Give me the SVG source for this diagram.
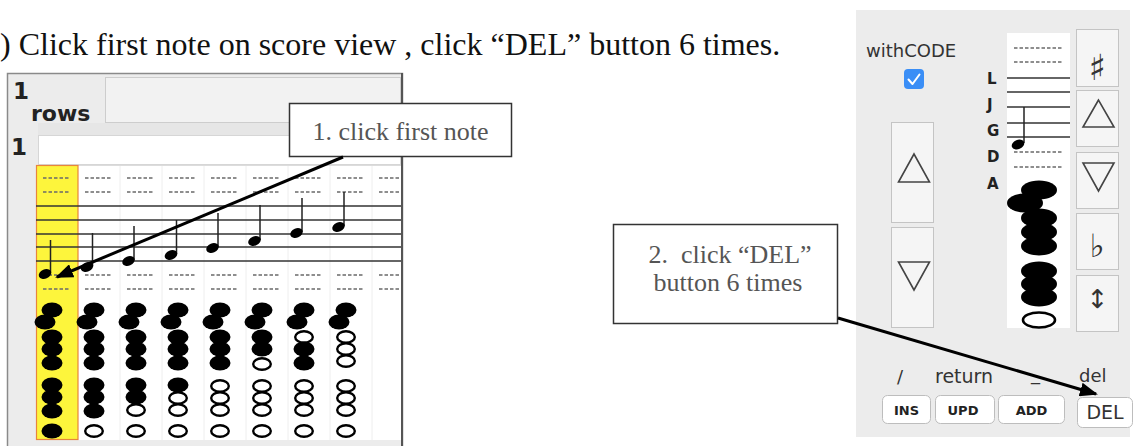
<svg xmlns="http://www.w3.org/2000/svg" xmlns:xlink="http://www.w3.org/1999/xlink" width="1136" height="446" viewBox="0 0 1136 446">
<style>
.title{font-family:"Liberation Serif","Times New Roman",serif;font-size:32px;fill:#111}
.call{font-family:"Liberation Serif","Times New Roman",serif;font-size:26px;fill:#555}
.ui{font-family:"DejaVu Sans","Liberation Sans",sans-serif;fill:#333}
.uib{font-family:"DejaVu Sans","Liberation Sans",sans-serif;font-weight:bold;fill:#222}
.staff{stroke:#333;stroke-width:1.6}
.dash{stroke:#6a6a6a;stroke-width:1.7;stroke-dasharray:3.5 2}
.stem{stroke:#222;stroke-width:1.5}
.btn{fill:#f5f5f5;stroke:#c4c4c4;stroke-width:1}
.wbtn{fill:#fff;stroke:#bdbdbd;stroke-width:1}
.tri{fill:none;stroke:#444;stroke-width:1.6;stroke-linejoin:miter}
.box{fill:#fff;stroke:#333;stroke-width:1.5}
.conn{stroke:#000;stroke-width:3;fill:none}
</style>
<defs>
<ellipse id="hf" rx="10.5" ry="7.5" fill="#000"/>
<ellipse id="ho" rx="8.8" ry="5.8" fill="#fff" stroke="#000" stroke-width="2.4"/>
<ellipse id="mf" rx="18" ry="9.5" fill="#000"/>
<g id="d4">
<line class="dash" x1="7" y1="178" x2="34" y2="178"/>
<line class="dash" x1="7" y1="192" x2="34" y2="192"/>
<line class="dash" x1="7" y1="275" x2="34" y2="275"/>
<line class="dash" x1="7" y1="289" x2="34" y2="289"/>
</g>
<clipPath id="gridclip"><rect x="36" y="165" width="366" height="276"/></clipPath>
<marker id="ah" viewBox="0 0 18 14" refX="16" refY="7" markerWidth="18" markerHeight="14" markerUnits="userSpaceOnUse" orient="auto">
<path d="M0,0 L18,7 L0,14 z" fill="#000"/>
</marker>
</defs>

<rect x="0" y="0" width="1136" height="446" fill="#fff"/>

<g id="title">
<text class="title" x="0" y="55">) Click first note on score view , click “DEL” button 6 times.</text>
</g>

<g id="score-panel">
<rect x="7.5" y="73.5" width="395" height="390" fill="#ececec" stroke="#8a8a8a" stroke-width="1.5"/>
<text class="uib" x="13" y="99" font-size="23">1</text>
<text class="uib" x="31" y="121" font-size="22">rows</text>
<rect x="105.5" y="77.5" width="295" height="45" fill="#f2f2f2" stroke="#cdcdcd"/>
<rect x="38" y="123" width="363" height="12" fill="#e6e6e6"/>
<text class="uib" x="11" y="155" font-size="23">1</text>
<rect x="38.5" y="135.5" width="362" height="29" fill="#fff" stroke="#d6d6d6"/>
<rect x="36" y="165" width="366" height="275" fill="#fff"/>
<line x1="36" y1="165.5" x2="402" y2="165.5" stroke="#dcdcdc"/>
<g stroke="#eeeeee" stroke-width="1">
<line x1="120" y1="166" x2="120" y2="440"/>
<line x1="162" y1="166" x2="162" y2="440"/>
<line x1="204" y1="166" x2="204" y2="440"/>
<line x1="246" y1="166" x2="246" y2="440"/>
<line x1="288" y1="166" x2="288" y2="440"/>
<line x1="330" y1="166" x2="330" y2="440"/>
<line x1="372" y1="166" x2="372" y2="440"/>
</g>
<rect x="36.5" y="165.5" width="41.5" height="274" fill="#fdf53c" stroke="#e8853c" stroke-width="1.2"/>
<g clip-path="url(#gridclip)">
<use href="#d4" x="36"/>
<use href="#d4" x="78"/>
<use href="#d4" x="120"/>
<use href="#d4" x="162"/>
<use href="#d4" x="204"/>
<use href="#d4" x="246"/>
<use href="#d4" x="288"/>
<use href="#d4" x="330"/>
<use href="#d4" x="372"/>
</g>
<line class="staff" x1="36" y1="206" x2="402" y2="206"/>
<line class="staff" x1="36" y1="220" x2="402" y2="220"/>
<line class="staff" x1="36" y1="234" x2="402" y2="234"/>
<line class="staff" x1="36" y1="247" x2="402" y2="247"/>
<line class="staff" x1="36" y1="261" x2="402" y2="261"/>
<line x1="402" y1="73" x2="402" y2="446" stroke="#555" stroke-width="2"/>

<g id="notes">
<line class="stem" x1="50.5" y1="273" x2="50.5" y2="240"/><ellipse cx="45" cy="274" rx="6.5" ry="4.6" transform="rotate(-22 45 274)"/>
<line class="stem" x1="92.5" y1="266" x2="92.5" y2="233"/><ellipse cx="87" cy="267" rx="6.5" ry="4.6" transform="rotate(-22 87 267)"/>
<line class="stem" x1="134" y1="260" x2="134" y2="226"/><ellipse cx="128.5" cy="261" rx="6.5" ry="4.6" transform="rotate(-22 128.5 261)"/>
<line class="stem" x1="176.5" y1="254" x2="176.5" y2="220"/><ellipse cx="171" cy="255" rx="6.5" ry="4.6" transform="rotate(-22 171 255)"/>
<line class="stem" x1="218" y1="247" x2="218" y2="213"/><ellipse cx="212.5" cy="248" rx="6.5" ry="4.6" transform="rotate(-22 212.5 248)"/>
<line class="stem" x1="260" y1="240" x2="260" y2="205"/><ellipse cx="254.5" cy="241" rx="6.5" ry="4.6" transform="rotate(-22 254.5 241)"/>
<line class="stem" x1="302" y1="232" x2="302" y2="198"/><ellipse cx="296.5" cy="233" rx="6.5" ry="4.6" transform="rotate(-22 296.5 233)"/>
<line class="stem" x1="344" y1="226" x2="344" y2="192"/><ellipse cx="338.5" cy="227" rx="6.5" ry="4.6" transform="rotate(-22 338.5 227)"/>
</g>

<g id="holes">
<use href="#hf" x="52" y="310"/><use href="#hf" x="45" y="322"/><use href="#hf" x="52" y="337"/><use href="#hf" x="52" y="349"/><use href="#hf" x="52" y="363"/><use href="#hf" x="52" y="385"/><use href="#hf" x="52" y="397"/><use href="#hf" x="52" y="411"/><use href="#hf" x="52" y="431"/>
<use href="#hf" x="94" y="310"/><use href="#hf" x="87" y="322"/><use href="#hf" x="94" y="337"/><use href="#hf" x="94" y="349"/><use href="#hf" x="94" y="363"/><use href="#hf" x="94" y="385"/><use href="#hf" x="94" y="397"/><use href="#hf" x="94" y="411"/><use href="#ho" x="94" y="431"/>
<use href="#hf" x="136" y="310"/><use href="#hf" x="129" y="322"/><use href="#hf" x="136" y="337"/><use href="#hf" x="136" y="349"/><use href="#hf" x="136" y="363"/><use href="#hf" x="136" y="385"/><use href="#hf" x="136" y="397"/><use href="#ho" x="136" y="410"/><use href="#ho" x="136" y="431"/>
<use href="#hf" x="178" y="310"/><use href="#hf" x="171" y="322"/><use href="#hf" x="178" y="337"/><use href="#hf" x="178" y="349"/><use href="#hf" x="178" y="363"/><use href="#hf" x="178" y="385"/><use href="#ho" x="178" y="398"/><use href="#ho" x="178" y="410"/><use href="#ho" x="178" y="431"/>
<use href="#hf" x="220" y="310"/><use href="#hf" x="213" y="322"/><use href="#hf" x="220" y="337"/><use href="#hf" x="220" y="349"/><use href="#hf" x="220" y="363"/><use href="#ho" x="220" y="386"/><use href="#ho" x="220" y="398"/><use href="#ho" x="220" y="410"/><use href="#ho" x="220" y="431"/>
<use href="#hf" x="262" y="310"/><use href="#hf" x="255" y="322"/><use href="#hf" x="262" y="337"/><use href="#hf" x="262" y="349"/><use href="#ho" x="262" y="364"/><use href="#ho" x="262" y="386"/><use href="#ho" x="262" y="398"/><use href="#ho" x="262" y="410"/><use href="#ho" x="262" y="431"/>
<use href="#hf" x="304" y="310"/><use href="#hf" x="297" y="322"/><use href="#ho" x="304" y="337"/><use href="#hf" x="304" y="349"/><use href="#hf" x="304" y="363"/><use href="#ho" x="304" y="386"/><use href="#ho" x="304" y="398"/><use href="#ho" x="304" y="410"/><use href="#ho" x="304" y="431"/>
<use href="#hf" x="346" y="310"/><use href="#hf" x="339" y="322"/><use href="#ho" x="346" y="337"/><use href="#ho" x="346" y="349"/><use href="#ho" x="346" y="361"/><use href="#ho" x="346" y="386"/><use href="#ho" x="346" y="398"/><use href="#ho" x="346" y="410"/><use href="#ho" x="346" y="431"/>
</g>
</g>

<g id="control-panel">
<rect x="856" y="10" width="274" height="427" fill="#ececec"/>
<text class="ui" x="866" y="57" font-size="18">withCODE</text>
<rect x="904" y="69" width="20" height="20" rx="4" fill="#3a8ef6"/>
<path d="M908.5 79.5 L912.5 84 L919.5 74.5" fill="none" stroke="#fff" stroke-width="2" stroke-linecap="round" stroke-linejoin="round"/>
<rect class="btn" x="891.5" y="122.5" width="42" height="100"/>
<path class="tri" d="M914 154 L898.5 182 L929.5 182 Z"/>
<rect class="btn" x="891.5" y="227.5" width="42" height="100"/>
<path class="tri" d="M898.5 262 L929.5 262 L914 290 Z"/>

<rect x="1007" y="33" width="63" height="295" fill="#fff"/>
<text class="uib" x="987" y="84" font-size="15" fill="#4a4a4a">L</text>
<text class="uib" x="987" y="110" font-size="15" fill="#4a4a4a">J</text>
<text class="uib" x="987" y="136" font-size="15" fill="#4a4a4a">G</text>
<text class="uib" x="987" y="162" font-size="15" fill="#4a4a4a">D</text>
<text class="uib" x="987" y="189" font-size="15" fill="#4a4a4a">A</text>
<line class="dash" x1="1014" y1="48" x2="1062" y2="48"/>
<line class="dash" x1="1014" y1="62" x2="1062" y2="62"/>
<line class="dash" x1="1014" y1="152" x2="1062" y2="152"/>
<line class="dash" x1="1014" y1="167" x2="1062" y2="167"/>
<line class="staff" x1="1007" y1="78" x2="1070" y2="78"/>
<line class="staff" x1="1007" y1="92" x2="1070" y2="92"/>
<line class="staff" x1="1007" y1="107" x2="1070" y2="107"/>
<line class="staff" x1="1007" y1="123" x2="1070" y2="123"/>
<line class="staff" x1="1007" y1="137" x2="1070" y2="137"/>
<line class="stem" x1="1024" y1="143" x2="1024" y2="107"/>
<ellipse cx="1018" cy="144.5" rx="6.5" ry="4.6" transform="rotate(-22 1018 144.5)"/>
<use href="#mf" x="1039" y="190"/>
<use href="#mf" x="1025" y="203"/>
<use href="#mf" x="1039" y="218"/>
<use href="#mf" x="1039" y="232"/>
<use href="#mf" x="1039" y="246"/>
<use href="#mf" x="1039" y="271"/>
<use href="#mf" x="1039" y="284"/>
<use href="#mf" x="1039" y="297"/>
<ellipse cx="1039" cy="320" rx="16" ry="7.5" fill="#fff" stroke="#000" stroke-width="2.6"/>

<rect class="btn" x="1076.5" y="29.5" width="42" height="57"/>
<text class="ui" x="1097.5" y="80" font-size="36" text-anchor="middle" fill="#444">♯</text>
<rect class="btn" x="1076.5" y="90.5" width="42" height="56"/>
<path class="tri" d="M1098.5 100 L1083 127 L1114 127 Z"/>
<rect class="btn" x="1076.5" y="152.5" width="42" height="56"/>
<path class="tri" d="M1083 163 L1114 163 L1098.5 191 Z"/>
<rect class="btn" x="1076.5" y="213.5" width="42" height="56"/>
<text class="ui" x="1097" y="257" font-size="32" text-anchor="middle" fill="#444">♭</text>
<rect class="btn" x="1076.5" y="275.5" width="42" height="56"/>
<text class="ui" x="1097.5" y="308" font-size="26" text-anchor="middle" fill="#333">↕</text>

<text class="ui" x="897" y="383" font-size="18">/</text>
<text class="ui" x="935" y="383" font-size="19">return</text>
<text class="ui" x="1031" y="380" font-size="18">_</text>
<text class="ui" x="1079" y="382" font-size="18">del</text>
<rect class="wbtn" x="882.5" y="395.5" width="48" height="28" rx="5"/>
<text class="uib" x="906.5" y="415" font-size="13" text-anchor="middle" fill="#333">INS</text>
<rect class="wbtn" x="935.5" y="395.5" width="59" height="28" rx="5"/>
<text class="uib" x="963" y="415" font-size="13" text-anchor="middle" fill="#333">UPD</text>
<rect class="wbtn" x="998.5" y="395.5" width="66" height="28" rx="5"/>
<text class="uib" x="1031.5" y="415" font-size="13" text-anchor="middle" fill="#333">ADD</text>
<rect class="wbtn" x="1077.5" y="397.5" width="55" height="30" rx="5"/>
<text class="ui" x="1105" y="419" font-size="19" text-anchor="middle" fill="#222">DEL</text>
</g>

<g id="callout1">
<rect class="box" x="289.5" y="103.5" width="222" height="53"/>
<text class="call" x="400.5" y="140" text-anchor="middle">1. click first note</text>
</g>

<g id="callout2">
<rect class="box" x="613.5" y="224.5" width="224" height="99"/>
<text class="call" x="730" y="263" text-anchor="middle" xml:space="preserve">2.  click “DEL”</text>
<text class="call" x="728" y="291" text-anchor="middle">button 6 times</text>
</g>

<g id="connectors">
<line class="conn" x1="343" y1="157" x2="57" y2="277" marker-end="url(#ah)"/>
<line class="conn" x1="838" y1="318" x2="1096" y2="394" marker-end="url(#ah)"/>
</g>
</svg>
